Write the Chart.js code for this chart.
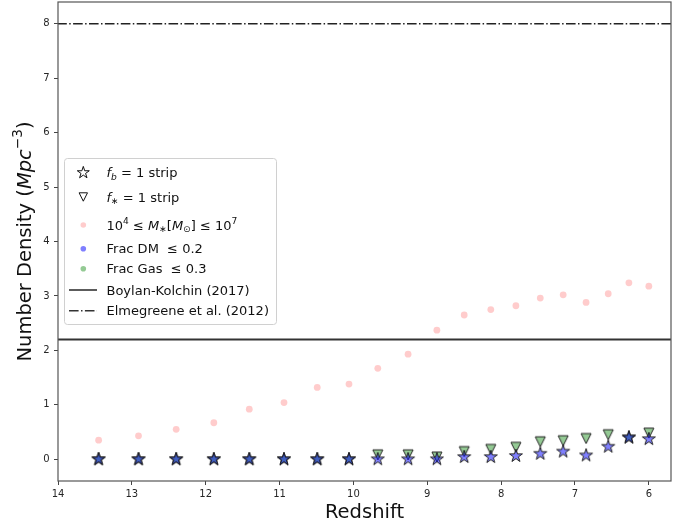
<!DOCTYPE html>
<html><head><meta charset="utf-8">
<script src="https://cdn.jsdelivr.net/npm/chart.js@4"></script>
<style>html,body{margin:0;padding:0;background:#fff}canvas{display:block}</style>
</head><body>
<canvas id="c" width="680" height="525"></canvas>
<script>
// ---- data ----
const redshift      = [13.45,12.91,12.40,11.89,11.41,10.94,10.49,10.06,9.67,9.26,8.87,8.50,8.14,7.80,7.47,7.16,6.85,6.55,6.27,6.00];
const massDensity   = [0.35,0.43,0.55,0.67,0.92,1.04,1.32,1.38,1.67,1.93,2.37,2.65,2.75,2.82,2.96,3.02,2.88,3.04,3.24,3.18];
const fbStripDM     = [0,0,0,0,0,0,0,0,0,0,0,0.04,0.04,0.06,0.10,0.14,0.07,0.23,0.40,0.37];
const fbStripGas    = [0,0,0,0,0,0,0,0,null,null,null,null,null,null,null,null,null,null,0.40,null];
const fstarStripGas = [null,null,null,null,null,null,null,null,0.08,0.08,0.04,0.14,0.18,0.22,0.32,0.34,0.38,0.45,null,0.48];
const boylanKolchin = 2.2;
const elmegreene    = 8.0;
const xTicks = [14,13,12,11,10,9,8,7,6];
const yTicks = [0,1,2,3,4,5,6,7,8];
const xMin = 5.7, xMax = 14, yMin = -0.4, yMax = 8.4;

const FONT = '"DejaVu Sans", "Liberation Sans", sans-serif';
const BLUE = 'rgba(0,0,255,0.5)', GREEN = 'rgba(0,128,0,0.42)', PINK = 'rgba(255,0,0,0.2)';

function pts(vals){ return redshift.map((z,i)=> vals[i]==null?null:{x:z,y:vals[i]}).filter(Boolean); }

function starPath(ctx, cx, cy, R){
  const r = R*0.382;
  ctx.beginPath();
  for(let k=0;k<10;k++){
    const a = -Math.PI/2 + k*Math.PI/5;
    const rr = k%2===0 ? R : r;
    const px = cx + rr*Math.cos(a), py = cy + rr*Math.sin(a);
    k===0 ? ctx.moveTo(px,py) : ctx.lineTo(px,py);
  }
  ctx.closePath();
}
function triPath(ctx, cx, cy, h){
  ctx.beginPath();
  ctx.moveTo(cx-h, cy-h); ctx.lineTo(cx+h, cy-h); ctx.lineTo(cx, cy+h); ctx.closePath();
}
function makeMarker(kind, fill, size){
  const c = document.createElement('canvas');
  const d = Math.ceil(size*2+4); c.width = d; c.height = d;
  const g = c.getContext('2d');
  if(kind==='star') starPath(g, d/2, d/2, size); else triPath(g, d/2, d/2, size);
  g.fillStyle = fill; g.fill();
  g.lineWidth = 1; g.strokeStyle = '#222'; g.lineJoin='miter'; g.stroke();
  return c;
}
const starBlue  = makeMarker('star', BLUE, 6.8);
const starGreen = makeMarker('star', 'rgba(0,128,0,0.5)', 6.8);
const triGreen  = makeMarker('tri', GREEN, 5);

function rich(ctx, x, y, segs, size, measureOnly){
  let cx = x;
  for(const s of segs){
    const sc = (s.sub||s.sup) ? 0.7 : 1;
    ctx.font = (s.it?'italic ':'') + (size*sc).toFixed(2) + 'px ' + FONT;
    const dy = s.sub ? size*0.2 : s.sup ? -size*0.42 : 0;
    if(!measureOnly) ctx.fillText(s.t, cx, y+dy);
    cx += ctx.measureText(s.t).width + (s.gap||0)*size;
  }
  return cx - x;
}

const overlay = {
  id:'overlay',
  afterDraw(chart){
    const ctx = chart.ctx, a = chart.chartArea;
    ctx.save();
    // frame
    ctx.strokeStyle = '#555'; ctx.lineWidth = 1.2;
    ctx.strokeRect(a.left, a.top, a.right-a.left, a.bottom-a.top);
    // axis titles
    ctx.fillStyle = '#111'; ctx.textBaseline = 'alphabetic';
    const ts = 19.5;
    ctx.font = ts+'px '+FONT;
    const xt = 'Redshift';
    const xw = ctx.measureText(xt).width;
    ctx.fillText(xt, (a.left+a.right)/2 - xw/2, 518);
    const ySegs = [{t:'Number Density ('},{t:'Mpc',it:true},{t:'\u22123',sup:true},{t:')'}];
    ctx.save();
    ctx.translate(23.5, (a.top+a.bottom)/2);
    ctx.rotate(-Math.PI/2);
    const yw = rich(ctx,0,0,ySegs,ts,true);
    rich(ctx, -yw/2, ts*0.36, ySegs, ts, false);
    ctx.restore();
    // legend
    const bx=64.5, by=158.5, bw=212, bh=166, rr=3;
    ctx.beginPath();
    ctx.moveTo(bx+rr,by); ctx.lineTo(bx+bw-rr,by); ctx.quadraticCurveTo(bx+bw,by,bx+bw,by+rr);
    ctx.lineTo(bx+bw,by+bh-rr); ctx.quadraticCurveTo(bx+bw,by+bh,bx+bw-rr,by+bh);
    ctx.lineTo(bx+rr,by+bh); ctx.quadraticCurveTo(bx,by+bh,bx,by+bh-rr);
    ctx.lineTo(bx,by+rr); ctx.quadraticCurveTo(bx,by,bx+rr,by); ctx.closePath();
    ctx.fillStyle='rgba(255,255,255,0.85)'; ctx.fill();
    ctx.strokeStyle='#d0d0d0'; ctx.lineWidth=1; ctx.stroke();
    const mx = 83.3, tx = 106.5, ls = 13;
    const rows = [172.7,197,225,248.7,268.7,290,310.8];
    // markers
    ctx.lineWidth=1; ctx.strokeStyle='#111'; ctx.fillStyle='#fff';
    starPath(ctx,mx,rows[0],6.3); ctx.fill(); ctx.stroke();
    triPath(ctx,mx,rows[1],4.2); ctx.fill(); ctx.stroke();
    [[PINK,rows[2]],[BLUE,rows[3]],[GREEN,rows[4]]].forEach(([c,y])=>{ctx.beginPath();ctx.arc(mx,y,2.8,0,Math.PI*2);ctx.fillStyle=c;ctx.fill();});
    ctx.strokeStyle='#333'; ctx.lineWidth=1.6;
    ctx.beginPath(); ctx.moveTo(69,rows[5]); ctx.lineTo(97,rows[5]); ctx.stroke();
    ctx.setLineDash([9.6,2.4,1.5,2.4]);
    ctx.beginPath(); ctx.moveTo(69,rows[6]); ctx.lineTo(97,rows[6]); ctx.stroke();
    ctx.setLineDash([]);
    // texts
    ctx.fillStyle='#111';
    const off = ls*0.36;
    const texts = [
      [{t:'f',it:true},{t:'b',it:true,sub:true},{t:' = 1 strip'}],
      [{t:'f',it:true},{t:'\u2217',sub:true},{t:' = 1 strip'}],
      [{t:'10'},{t:'4',sup:true},{t:' \u2264 '},{t:'M',it:true},{t:'\u2217',sub:true},{t:'['},{t:'M',it:true},{t:'\u2299',sub:true},{t:'] \u2264 10'},{t:'7',sup:true}],
      [{t:'Frac DM  \u2264 0.2'}],
      [{t:'Frac Gas  \u2264 0.3'}],
      [{t:'Boylan-Kolchin (2017)'}],
      [{t:'Elmegreene et al. (2012)'}]
    ];
    texts.forEach((s,i)=>rich(ctx,tx,rows[i]+off,s,ls,false));
    ctx.restore();
  }
};

function setTicks(list){ return (scale)=>{ scale.ticks = list.map(v=>({value:v})); }; }

new Chart(document.getElementById('c'), {
  type:'scatter',
  data:{ datasets:[
    {label:'Elmegreene et al. (2012)', type:'line', data:[{x:xMin,y:elmegreene},{x:xMax,y:elmegreene}], borderColor:'#222', borderWidth:1.6, borderDash:[9.6,2.4,1.5,2.4], pointRadius:0, showLine:true, order:5},
    {label:'Boylan-Kolchin (2017)', type:'line', data:[{x:xMin,y:boylanKolchin},{x:xMax,y:boylanKolchin}], borderColor:'#333', borderWidth:1.8, pointRadius:0, showLine:true, order:5},
    {label:'mass', data:pts(massDensity), backgroundColor:PINK, borderWidth:0, pointRadius:3.4, order:4},
    {label:'fstar strip', data:pts(fstarStripGas), pointStyle:triGreen, pointRadius:6, order:3},
    {label:'fb strip gas', data:pts(fbStripGas), pointStyle:starGreen, pointRadius:6, order:2},
    {label:'fb strip DM', data:pts(fbStripDM), pointStyle:starBlue, pointRadius:6, order:1}
  ]},
  options:{
    responsive:false, animation:false, devicePixelRatio:1,
    layout:{autoPadding:false, padding:{top:2,right:9,left:0,bottom:0}},
    plugins:{legend:{display:false}, tooltip:{enabled:false}},
    scales:{
      x:{type:'linear', reverse:true, min:xMin, max:xMax,
         afterBuildTicks:setTicks(xTicks),
         afterFit:(s)=>{s.height=44; s.paddingLeft=0; s.paddingRight=0;},
         grid:{drawOnChartArea:false, drawTicks:true, tickLength:4, color:'#444'},
         border:{display:false},
         ticks:{font:{family:FONT,size:10}, color:'#262626', padding:3, maxRotation:0, autoSkip:false}},
      y:{type:'linear', min:yMin, max:yMax,
         afterBuildTicks:setTicks(yTicks),
         afterFit:(s)=>{s.width=58; s.paddingTop=0; s.paddingBottom=0;},
         grid:{drawOnChartArea:false, drawTicks:true, tickLength:4, color:'#444'},
         border:{display:false},
         ticks:{font:{family:FONT,size:10}, color:'#262626', padding:4.5, autoSkip:false}}
    }
  },
  plugins:[overlay]
});
</script>
</body></html>
